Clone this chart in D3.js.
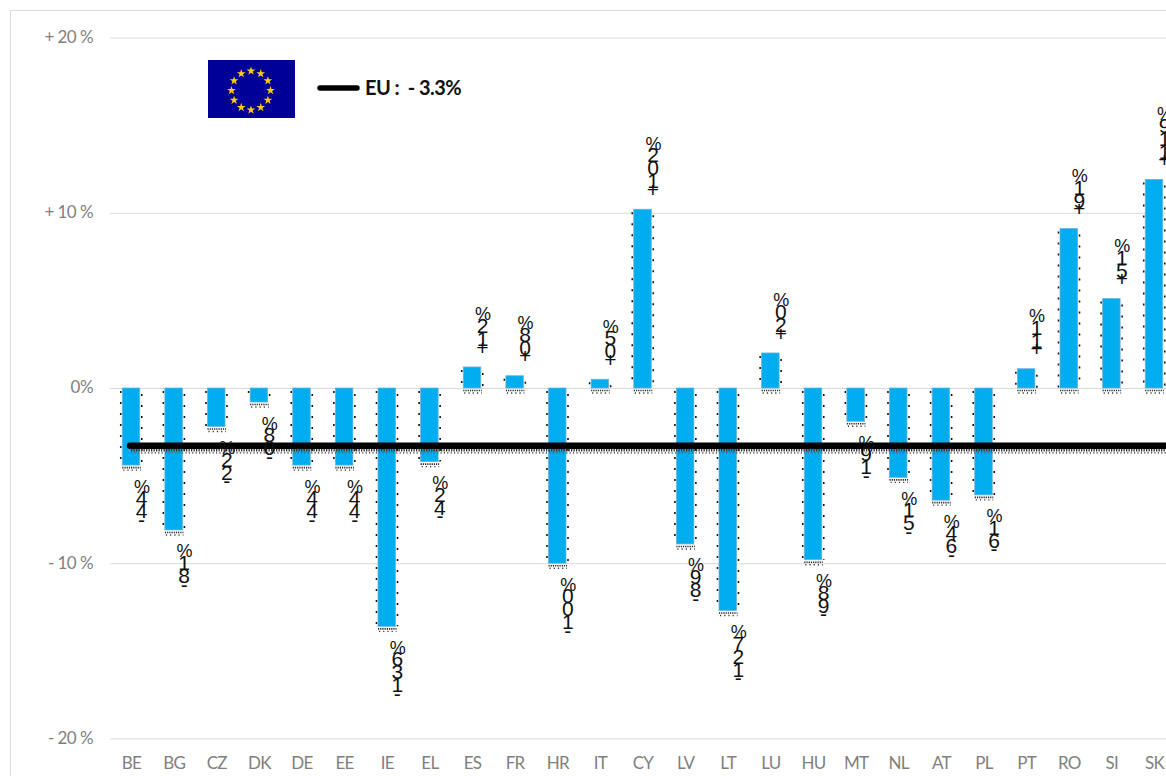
<!DOCTYPE html>
<html><head><meta charset="utf-8">
<script src="https://cdn.jsdelivr.net/npm/d3@7"></script>
<style>html,body{margin:0;padding:0;background:#fff;overflow:hidden}svg{display:block}</style>
</head><body><svg id="c" width="1166" height="776"></svg>
<script>
const categories=["BE","BG","CZ","DK","DE","EE","IE","EL","ES","FR","HR","IT","CY","LV","LT","LU","HU","MT","NL","AT","PL","PT","RO","SI","SK"];
const values=[-4.4,-8.1,-2.2,-0.8,-4.4,-4.4,-13.6,-4.2,1.2,0.7,-10.0,0.5,10.2,-8.9,-12.7,2.0,-9.8,-1.9,-5.1,-6.4,-6.1,1.1,9.1,5.1,11.9];
const labelValues=[-4.4,-8.1,-2.2,-0.8,-4.4,-4.4,-13.6,-4.2,1.2,0.8,-10.0,0.5,10.2,-8.9,-12.7,2.0,-9.8,-1.9,-5.1,-6.4,-6.1,1.1,9.1,5.1,11.9];
const tickValues=[20,10,0,-10,-20];
const tickLabels=["+ 20 %","+ 10 %","0%","- 10 %","- 20 %"];
const euValue=-3.3;
const legendText="EU :  - 3.3%";

const svg=d3.select("#c");
const y=d3.scaleLinear().domain([-20,20]).range([738.5,37.5]);
const x=d3.scalePoint().domain(categories).range([131,1154]);
const barW=17.5;
const font="Lato, 'Open Sans', sans-serif";

// frame
svg.append("path").attr("d","M10.5,776V10.5H1166").attr("fill","none").attr("stroke","#dcdcdc");

// y axis
const yAxis=d3.axisLeft(y).tickValues(tickValues).tickSize(-1056).tickPadding(17)
  .tickFormat((d,i)=>tickLabels[i]);
const gy=svg.append("g").attr("transform","translate(110,0)").call(yAxis);
gy.select(".domain").remove();
gy.selectAll("line").attr("stroke","#d9d9d9").attr("stroke-width",1);
gy.selectAll("text").attr("fill","#7f7f7f").attr("font-family",font).attr("font-size",17).attr("letter-spacing",-0.55).attr("dy","0.28em");

// x axis
const xAxis=d3.axisBottom(x).tickSize(0).tickPadding(0);
const gx=svg.append("g").attr("transform","translate(0,757)").call(xAxis);
gx.select(".domain").remove();
gx.selectAll("text").attr("fill","#7f7f7f").attr("font-family",font).attr("font-size",17).attr("letter-spacing",-0.7);

// stippled shadows
const shadow=svg.append("g").attr("fill","none").attr("stroke","#111");
categories.forEach((c,i)=>{
  const v=values[i],cx=x(c),a=Math.min(y(v),y(0)),b=Math.max(y(v),y(0));
  const l=cx-barW/2,r=cx+barW/2;
  if(b-a>8){
    shadow.append("line").attr("x1",l-1.5).attr("x2",l-1.5).attr("y1",a+3).attr("y2",b).attr("stroke-dasharray","2 9").attr("stroke-width",1.6);
    shadow.append("line").attr("x1",r+2).attr("x2",r+2).attr("y1",a+6).attr("y2",b).attr("stroke-dasharray","2 9").attr("stroke-width",1.6);
  }
  shadow.append("line").attr("x1",l).attr("x2",r+1).attr("y1",b+2.5).attr("y2",b+2.5).attr("stroke-dasharray","1.2 1").attr("stroke-width",1.6).attr("stroke","#222");
  shadow.append("line").attr("x1",l+1).attr("x2",r+1).attr("y1",b+5).attr("y2",b+5).attr("stroke-dasharray","1.2 3").attr("stroke-width",1.4).attr("stroke","#333");
});

// bars
svg.append("g").selectAll("rect").data(categories).join("rect")
  .attr("x",d=>x(d)-barW/2)
  .attr("y",(d,i)=>Math.min(y(values[i]),y(0)))
  .attr("width",barW)
  .attr("height",(d,i)=>Math.abs(y(values[i])-y(0)))
  .attr("fill","#00aeef").attr("stroke","#6fb2dd").attr("stroke-width",0.8);

// EU average line with its stippled shadow
const ly=y(euValue);
svg.append("line").attr("x1",131).attr("x2",1166).attr("y1",ly+4.5).attr("y2",ly+4.5)
  .attr("stroke","#333").attr("stroke-width",2.5).attr("stroke-dasharray","1.3 1.2");
svg.append("line").attr("x1",131).attr("x2",1166).attr("y1",ly+7).attr("y2",ly+7)
  .attr("stroke","#666").attr("stroke-width",1.8).attr("stroke-dasharray","1.2 2.2");
svg.append("line").attr("x1",130).attr("x2",1166).attr("y1",ly).attr("y2",ly)
  .attr("stroke","#000").attr("stroke-width",6.5).attr("stroke-linecap","round");

// stacked data labels: characters pile up vertically
const labels=svg.append("g").attr("font-family","'Liberation Sans Narrow', 'Liberation Sans', Arial, sans-serif").attr("fill","#111").attr("text-anchor","middle");
const digitsOf=v=>Math.abs(v).toFixed(1).replace(".","").split("");
categories.forEach((c,i)=>{
  const v=labelValues[i],lx=x(c)+10.5,d=digitsOf(v);
  const seq=["%",...d.slice().reverse(),v<0?"-":"+"]; // from top to bottom
  const steps=[];
  for(let k=0;k<seq.length-1;k++) steps.push(k===0?11.5:(k===seq.length-2?8.5:13));
  const total=d3.sum(steps);
  const end=y(values[i]);
  const top=v<0?end+21:end-20-total;
  let cy=top;
  seq.forEach((ch,k)=>{
    labels.append("text").attr("x",ch==="%"?lx+0.5:lx).attr("y",cy).attr("dy","0.36em").text(ch)
      .attr("font-size",ch==="%"?18:21);
    if(k<steps.length) cy+=steps[k];
  });
});

// flag
const flag=svg.append("g");
flag.append("rect").attr("x",208).attr("y",60).attr("width",87).attr("height",58).attr("fill","#000099");
const star=d3.symbol().type(d3.symbolStar).size(24);
d3.range(12).forEach(k=>{
  const t=k/12*2*Math.PI;
  flag.append("path").attr("d",star).attr("fill","#ffcc00")
    .attr("transform",`translate(${251+19.5*Math.sin(t)},${90.5-19.5*Math.cos(t)})`);
});

// legend
svg.append("line").attr("x1",320).attr("x2",357).attr("y1",88).attr("y2",88)
  .attr("stroke","#000").attr("stroke-width",5.5).attr("stroke-linecap","round");
svg.append("text").attr("x",365).attr("y",94.5).style("white-space","pre")
  .attr("font-family",font).attr("font-weight",700).attr("font-size",20).attr("letter-spacing",-0.55).attr("fill","#111").text(legendText);
</script></body></html>
